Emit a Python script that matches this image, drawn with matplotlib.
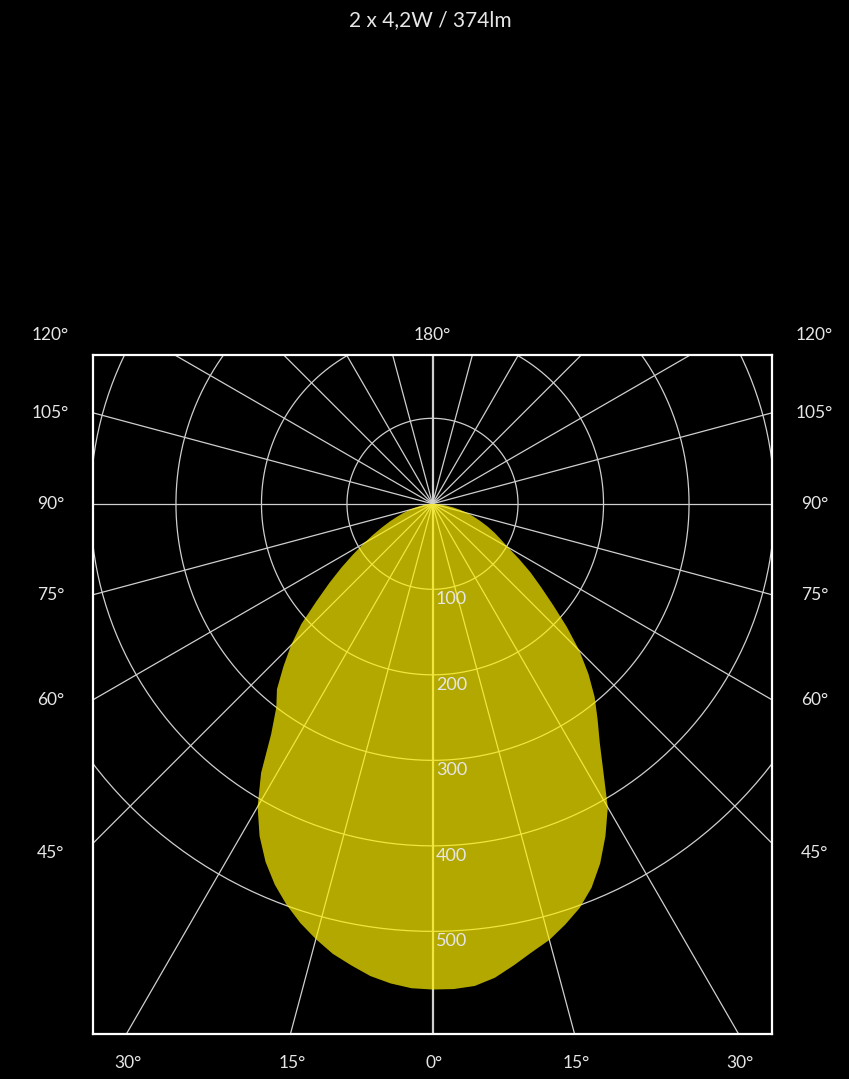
import numpy as np
import matplotlib.pyplot as plt

# light distribution, angle from nadir (deg) and intensity (cd)
angles = [0, 2.5, 5, 7.5, 10, 12.5, 15, 17.5, 20, 22.5, 25, 27.5, 30, 32.5, 35, 37.5,
          40, 42.5, 45, 47.5, 50, 52.5, 55, 57.5, 60, 62.5, 65, 67.5, 70, 72.5, 75,
          77.5, 80, 82.5, 85, 87.5, 90]
left_cd = [568, 567, 563, 557, 548, 539, 527, 514, 499, 482, 462, 438, 409, 373, 329, 300,
           283, 258, 234, 208, 177, 152, 130, 110, 93, 78, 65, 54, 44, 36, 28,
           21, 15, 10, 6, 3, 0]
right_cd = [568, 568, 566, 559, 548, 537, 528, 516, 503, 486, 464, 438, 410, 372, 341, 317,
            295, 270, 243, 213, 184, 160, 140, 120, 102, 90, 80, 70, 60, 51, 43,
            34, 25, 17, 10, 5, 0]

rings = [100, 200, 300, 400, 500]
side_labels = [45, 60, 75, 90, 105, 120]
bottom_labels = [30, 15, 0, 15, 30]
bottom_angles = [-30, -15, 0, 15, 30]
title = "2 x 4,2W / 374lm"

plt.rcParams['font.family'] = ['Lato', 'DejaVu Sans']
txt = '#e6e6e6'
grid = '#cfcfcf'

fig = plt.figure(figsize=(8.49, 10.79), dpi=100, facecolor='black')
ax = fig.add_axes([93 / 849, 45 / 1079, 679 / 849, 679 / 1079])
ax.set_facecolor('black')
xmax, ytop, ybot = 397, 174, -620
ax.set_xlim(-xmax, xmax)
ax.set_ylim(ybot, ytop)
ax.set_xticks([])
ax.set_yticks([])
for s in ax.spines.values():
    s.set_color('white')
    s.set_linewidth(1.6)

# grid: rings and radial lines every 15 deg
t = np.linspace(0, 2 * np.pi, 400)
for r in rings:
    ax.plot(r * np.sin(t), r * np.cos(t), color=grid, lw=0.9, zorder=1)
for a in range(0, 360, 15):
    th = np.radians(a)
    lw = 1.6 if a % 180 == 0 else 0.9
    ax.plot([0, 1500 * np.sin(th)], [0, -1500 * np.cos(th)], color=grid, lw=lw, zorder=1)

# curve
th_l = -np.radians(angles[::-1])
r_l = np.array(left_cd[::-1])
th_r = np.radians(angles[1:])
r_r = np.array(right_cd[1:])
th = np.concatenate([th_l, th_r])
r = np.concatenate([r_l, r_r])
ax.fill(r * np.sin(th), -r * np.cos(th), color='#fff000', alpha=0.7, lw=0, zorder=2)

# ring labels
for rv in rings:
    ax.text(4, -rv - 2, str(rv), color=txt, fontsize=13, ha='left', va='top', zorder=3)

# angle labels
to_data = 1 / 0.855
for a in side_labels:
    y = -xmax / np.tan(np.radians(a))
    y = min(y, ytop + 20 * to_data)
    if a == 45:
        y -= 10 * to_data
    ax.text(-(432 - 50) * to_data, y, f"{a}°", color=txt, fontsize=12.5,
            ha='center', va='center', clip_on=False)
    ax.text((814 - 432) * to_data, y, f"{a}°", color=txt, fontsize=12.5,
            ha='center', va='center', clip_on=False)
ax.text(0, ytop + 20 * to_data, "180°", color=txt, fontsize=12.5,
        ha='center', va='center', clip_on=False)
for lab, a in zip(bottom_labels, bottom_angles):
    x = -ybot * np.tan(np.radians(a))
    ax.text(x + 2, ybot - 29 * to_data, f"{lab}°", color=txt, fontsize=12.5,
            ha='center', va='center', clip_on=False)

fig.text(0.507, 1 - 20 / 1079, title, color=txt, fontsize=15, ha='center', va='center')

fig.savefig('out.png', dpi=100, facecolor='black')
